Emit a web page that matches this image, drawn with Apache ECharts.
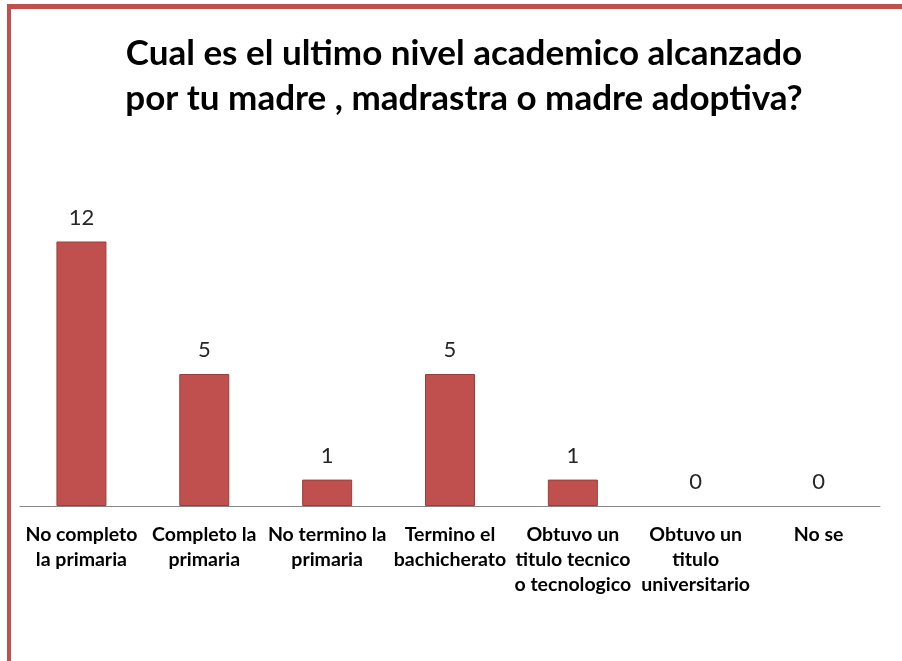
<!DOCTYPE html>
<html>
<head>
<meta charset="utf-8">
<script src="https://cdn.jsdelivr.net/npm/echarts@6/dist/echarts.min.js"></script>
<style>
  html, body { margin: 0; padding: 0; background: #fff; }
  #wrap { position: relative; width: 902px; height: 661px; overflow: hidden; }
  #frame { position: absolute; left: 7px; top: 4px; width: 1000px; height: 800px;
           border-left: 4px solid #C0504D; border-top: 5px solid #C0504D; box-sizing: border-box; }
  #chart { position: absolute; left: 0; top: 0; width: 902px; height: 661px; }
</style>
</head>
<body>
<div id="wrap">
  <div id="chart"></div>
  <div id="frame"></div>
</div>
<script>
const titleText = 'Cual es el ultimo nivel academico alcanzado\npor tu madre , madrastra o madre adoptiva?';
const categories = [
  'No completo\nla primaria',
  'Completo la\nprimaria',
  'No termino la\nprimaria',
  'Termino el\nbachicherato',
  'Obtuvo un\ntitulo tecnico\no tecnologico',
  'Obtuvo un\ntitulo\nuniversitario',
  'No se'
];
const values = [12, 5, 1, 5, 1, 0, 0];
const axisMin = 0;
const axisMax = 10;

const chart = echarts.init(document.getElementById('chart'), null, { renderer: 'canvas' });
chart.setOption({
  animation: false,
  backgroundColor: '#ffffff',
  title: {
    text: titleText,
    left: 459,
    top: 26,
    textAlign: 'center',
    textStyle: {
      fontFamily: 'Lato',
      fontWeight: 'bold',
      fontSize: 35,
      lineHeight: 45,
      color: '#000000'
    }
  },
  grid: { left: 20, right: 22, top: 242, bottom: 155, containLabel: false },
  xAxis: {
    type: 'category',
    data: categories,
    axisLine: { show: true, lineStyle: { color: '#868686', width: 1 } },
    axisTick: { show: false },
    axisLabel: {
      interval: 0,
      margin: 16,
      fontFamily: 'Lato',
      fontWeight: 'bold',
      fontSize: 19.5,
      lineHeight: 25,
      color: '#000000'
    }
  },
  yAxis: {
    type: 'value',
    min: axisMin,
    max: axisMax,
    show: false,
    splitLine: { show: false }
  },
  series: [{
    type: 'bar',
    data: values.map(v => (v === 0 ? { value: v, itemStyle: { borderWidth: 0 } } : v)),
    barWidth: 50,
    clip: true,
    itemStyle: { color: '#C0504D', borderColor: '#9A3E3B', borderWidth: 1 },
    label: {
      show: true,
      position: 'top',
      distance: 13,
      fontFamily: 'Lato',
      fontSize: 22,
      color: '#262626'
    }
  }]
});
</script>
</body>
</html>
